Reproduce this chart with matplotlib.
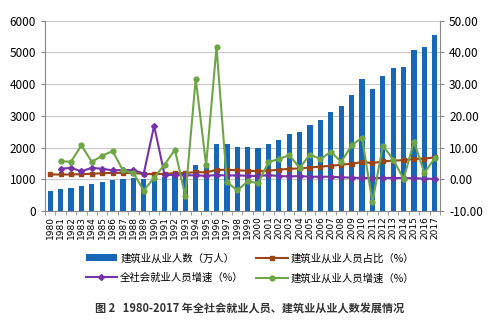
import matplotlib
matplotlib.use("Agg")
import matplotlib.pyplot as plt
import numpy as np

plt.rcParams['font.family'] = ['Noto Sans CJK SC', 'DejaVu Sans']

years = [str(y) for y in range(1980, 2018)]
construction_workers = [640, 680, 725, 800, 850, 910, 990, 1020, 1045, 1008, 1013, 1058, 1156, 1094,
                        1441, 1497, 2121, 2101, 2030, 2020, 1994, 2110, 2245, 2414, 2500, 2699,
                        2878, 3133, 3315, 3672, 4160, 3852, 4267, 4499, 4536, 5094, 5185, 5537]
construction_share = [1.5, 1.5, 1.5, 1.6, 1.7, 1.9, 2.0, 2.0, 2.0, 1.7, 1.6, 1.7, 1.9, 2.0,
                      2.2, 2.2, 2.9, 3.0, 2.8, 2.7, 2.5, 2.7, 3.0, 3.3, 3.4, 3.7,
                      4.0, 4.2, 4.6, 4.9, 5.4, 5.1, 5.6, 5.9, 6.0, 6.4, 6.5, 6.9]
total_growth = [np.nan, 3.3, 3.6, 2.5, 3.6, 3.3, 2.8, 2.9, 2.9, 1.8, 16.9, 1.4, 1.3, 1.3,
                1.2, 1.1, 1.3, 1.2, 1.2, 1.1, 1.0, 1.3, 1.0, 0.9, 1.0, 0.8,
                0.8, 0.8, 0.6, 0.5, 0.4, 0.4, 0.4, 0.4, 0.4, 0.3, 0.2, 0.1]
construction_growth = [np.nan, 5.7, 5.5, 10.7, 5.5, 7.4, 8.9, 2.8, 2.0, -3.6, 0.5, 4.6, 9.3, -5.4,
                       31.7, 4.4, 41.7, -0.9, -3.5, -0.7, -1.2, 5.4, 6.4, 7.6, 3.6, 7.8,
                       6.4, 8.6, 5.5, 10.7, 13.1, -7.2, 10.6, 6.2, 0.1, 11.9, 2.0, 6.7]
legend_labels = ['建筑业从业人数（万人）', '全社会就业人员增速（%）', '建筑业从业人员占比（%）', '建筑业从业人员增速（%）']
caption = '图 2   1980-2017 年全社会就业人员、建筑业从业人数发展情况'

fig = plt.figure(figsize=(5, 3.25), dpi=100)
ax = fig.add_axes([0.09, 0.351, 0.79, 0.585])
x = np.arange(len(years))

c_bar = '#1766B8'
c_brown = '#9A4418'
c_purple = '#7433A6'
c_green = '#6EA646'

bars = ax.bar(x, construction_workers, width=0.5, color=c_bar, zorder=2)
ax.set_ylim(0, 6000)
ax.set_xlim(-0.5, len(years) - 0.5)
ax.set_yticks(range(0, 6001, 1000))
ax.yaxis.grid(True, color='#c8c8c8', linewidth=0.8, zorder=0)
ax.set_axisbelow(True)
ax.set_xticks(x)
ax.set_xticklabels(years, rotation=90, fontsize=6.5, family=['DejaVu Sans'])
ax.tick_params(axis='x', length=0, pad=4)
ax.set_xticks(np.arange(-0.5, len(years)), minor=True)
ax.tick_params(axis='x', which='minor', length=3, color='#888888')
ax.tick_params(axis='y', labelsize=8.5, length=3, color='#888888')
for s in ['top', 'right']:
    ax.spines[s].set_visible(False)
ax.spines['left'].set_color('#888888')
ax.spines['bottom'].set_color('#888888')

ax2 = ax.twinx()
ax2.set_ylim(-10, 50)
ax2.set_yticks(range(-10, 51, 10))
ax2.set_yticklabels([f'{v:.2f}' for v in range(-10, 51, 10)])
ax2.tick_params(axis='y', labelsize=8.5, length=3, color='#888888')
for s in ['top', 'left', 'bottom']:
    ax2.spines[s].set_visible(False)
ax2.spines['right'].set_color('#888888')

l_brown, = ax2.plot(x, construction_share, color=c_brown, marker='s', markersize=3, linewidth=1.5, zorder=3)
l_purple, = ax2.plot(x, total_growth, color=c_purple, marker='D', markersize=3, linewidth=1.5, zorder=4)
l_green, = ax2.plot(x, construction_growth, color=c_green, marker='o', markersize=3.5, linewidth=1.5, zorder=5)

fig.legend([bars, l_purple, l_brown, l_green], legend_labels, ncol=2, loc='center',
           bbox_to_anchor=(0.5, 0.175), frameon=False, fontsize=7.5, handlelength=3,
           columnspacing=1.2, labelspacing=0.9, handletextpad=0.3)

fig.text(0.5, 0.048, caption, ha='center', va='center', fontsize=8, fontweight='bold', color='#333333')

fig.savefig('out.png', dpi=100)
